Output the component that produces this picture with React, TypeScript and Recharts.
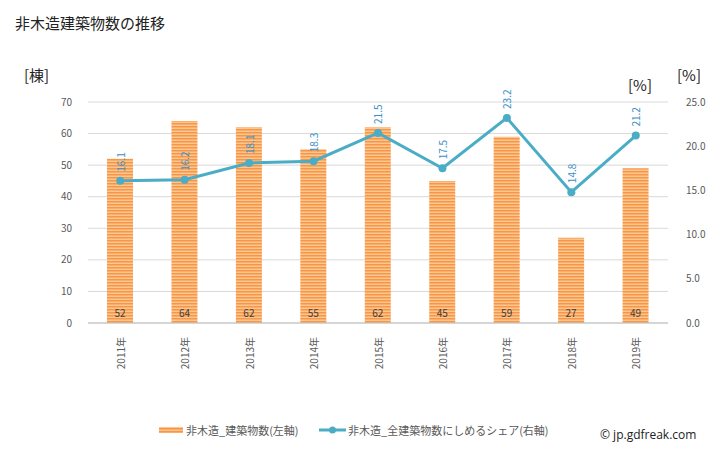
import React from 'react';
import { ComposedChart, Bar, Line, XAxis, YAxis, CartesianGrid, LabelList } from 'recharts';

const years = ['2011年', '2012年', '2013年', '2014年', '2015年', '2016年', '2017年', '2018年', '2019年'];
const buildings = [52, 64, 62, 55, 62, 45, 59, 27, 49];
const shares = [16.1, 16.2, 18.1, 18.3, 21.5, 17.5, 23.2, 14.8, 21.2];
const leftTicks = [0, 10, 20, 30, 40, 50, 60, 70];
const rightTicks = [0, 5, 10, 15, 20, 25];

const data = years.map((y, i) => ({ year: y, count: buildings[i], share: shares[i] }));

const FONT = '"Noto Sans CJK JP", "Noto Sans", sans-serif';
const LINE_COLOR = '#4bacc6';

const XTick = (props: any) => {
  const { x, y, payload } = props;
  return (
    <text x={x} y={y + 6} transform={`rotate(-90 ${x} ${y + 6})`} textAnchor="end" dominantBaseline="central"
      fontSize={10} fill="#595959" fontFamily={FONT}>
      {payload.value}
    </text>
  );
};

const BarValue = (props: any) => {
  const { x, y, width, height, value } = props;
  return (
    <text x={x + width / 2} y={y + height - 11} textAnchor="middle" dominantBaseline="central"
      fontSize={10} fill="#404040" fontFamily={FONT}>
      {value}
    </text>
  );
};

const LineValue = (props: any) => {
  const { x, y, value } = props;
  const ly = y - 9;
  return (
    <text x={x} y={ly} transform={`rotate(-90 ${x} ${ly})`} textAnchor="start" dominantBaseline="central"
      fontSize={10} fill="#3b8fc6" fontFamily={FONT}>
      {value.toFixed(1)}
    </text>
  );
};

export default function App() {
  return (
    <div style={{ position: 'absolute', left: 0, top: 0, width: 728, height: 450, background: '#fff', fontFamily: FONT }}>
      <ComposedChart width={728} height={450} data={data} margin={{ top: 102, right: 0, bottom: 0, left: 0 }}>
        <defs>
          <pattern id="stripes" width="4" height="3" patternUnits="userSpaceOnUse">
            <rect width="4" height="3" fill="#fcc690" />
            <rect width="4" height="1.5" fill="#f79646" />
          </pattern>
        </defs>
        <CartesianGrid yAxisId="left" vertical={false} stroke="#d9d9d9" />
        <XAxis dataKey="year" height={127} tickLine={false} axisLine={{ stroke: '#bfbfbf' }} tick={<XTick />} interval={0} />
        <YAxis yAxisId="left" width={88} domain={[0, 70]} ticks={leftTicks} axisLine={false} tickLine={false}
          tick={{ fontSize: 10, fill: '#595959', fontFamily: FONT }} tickMargin={10} />
        <YAxis yAxisId="right" orientation="right" width={60} domain={[0, 25]} ticks={rightTicks} axisLine={false}
          tickLine={false} tickFormatter={(v: number) => v.toFixed(1)}
          tick={{ fontSize: 10, fill: '#595959', fontFamily: FONT }} tickMargin={12} />
        <Bar yAxisId="left" dataKey="count" fill="url(#stripes)" barSize={26} isAnimationActive={false}>
          <LabelList dataKey="count" content={<BarValue />} />
        </Bar>
        <Line yAxisId="right" dataKey="share" stroke={LINE_COLOR} strokeWidth={3}
          dot={{ r: 4, fill: LINE_COLOR, stroke: LINE_COLOR, strokeWidth: 0 }} isAnimationActive={false}>
          <LabelList dataKey="share" content={<LineValue />} />
        </Line>
      </ComposedChart>
      <div style={{ position: 'absolute', left: 15, top: 12, fontSize: 15, color: '#222' }}>非木造建築物数の推移</div>
      <div style={{ position: 'absolute', left: 24, top: 64, fontSize: 15, color: '#222' }}>[棟]</div>
      <div style={{ position: 'absolute', left: 628, top: 74, fontSize: 15, color: '#222' }}>[%]</div>
      <div style={{ position: 'absolute', left: 677, top: 64, fontSize: 15, color: '#222' }}>[%]</div>
      <div style={{ position: 'absolute', left: 159, top: 422, display: 'flex', alignItems: 'center', fontSize: 11, color: '#595959' }}>
        <svg width={24} height={10} style={{ marginRight: 3 }}>
          <rect x={0} y={2} width={24} height={6} fill="url(#stripes)" />
        </svg>
        <span>非木造_建築物数(左軸)</span>
      </div>
      <div style={{ position: 'absolute', left: 319, top: 422, display: 'flex', alignItems: 'center', fontSize: 11, color: '#595959' }}>
        <svg width={27} height={10} style={{ marginRight: 2 }}>
          <line x1={0} y1={5} x2={27} y2={5} stroke={LINE_COLOR} strokeWidth={3} />
          <circle cx={13.5} cy={5} r={3.5} fill={LINE_COLOR} />
        </svg>
        <span>非木造_全建築物数にしめるシェア(右軸)</span>
      </div>
      <div style={{ position: 'absolute', left: 600, top: 426, fontSize: 12, color: '#222', fontFamily: '"Open Sans", sans-serif' }}>© jp.gdfreak.com</div>
    </div>
  );
}
